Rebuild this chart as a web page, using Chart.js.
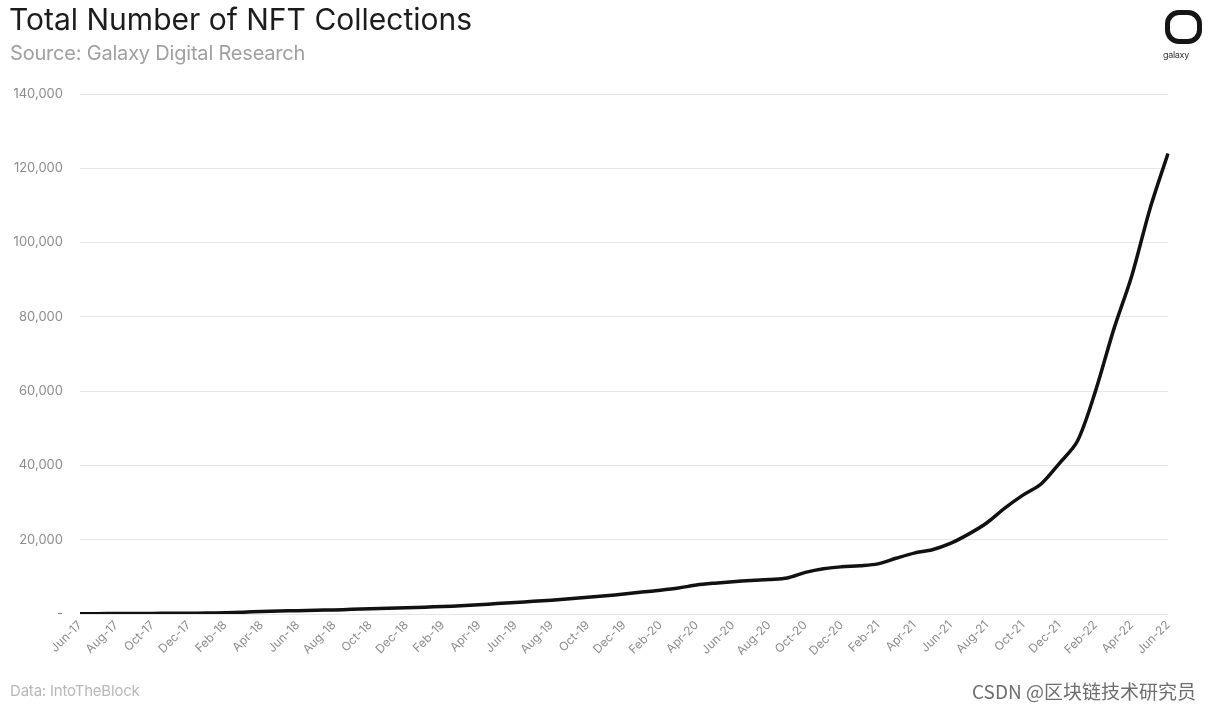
<!DOCTYPE html>
<html>
<head>
<meta charset="utf-8">
<script src="https://cdn.jsdelivr.net/npm/chart.js@4/dist/chart.umd.min.js"></script>
<style>
  html, body { margin: 0; padding: 0; background: #ffffff; }
  #wrap { position: relative; width: 1218px; height: 710px; overflow: hidden; background: #fff; }
  #c { position: absolute; left: 0; top: 0; }
  .t { position: absolute; white-space: nowrap; }
  #title { left: 9px; top: 1px; font-family: "Inter", "Liberation Sans", sans-serif; font-size: 30px; color: #1c1c1c; letter-spacing: 0px; }
  #sub { left: 10px; top: 41px; font-family: "Inter", "Liberation Sans", sans-serif; font-size: 20px; color: #a0a0a0; letter-spacing: -0.2px; }
  #foot { left: 10px; top: 681px; font-family: "Inter", "Liberation Sans", sans-serif; font-size: 15px; color: #b8b8b8; letter-spacing: -0.2px; }
  #wm { left: 972px; top: 677px; font-family: "Noto Sans CJK SC", sans-serif; font-size: 19px; color: #6e6e6e; }
  #logo { position: absolute; left: 1165px; top: 10px; width: 27px; height: 24px; border: 5px solid #151515; border-radius: 14px; }
  #logotxt { left: 1163px; top: 49px; font-family: "Inter", sans-serif; font-size: 9px; color: #333; letter-spacing: -0.3px; }
</style>
</head>
<body>
<div id="wrap">
  <canvas id="c" width="1218" height="710"></canvas>
  <div class="t" id="title">Total Number of NFT Collections</div>
  <div class="t" id="sub">Source: Galaxy Digital Research</div>
  <div id="logo"></div>
  <div class="t" id="logotxt">galaxy</div>
  <div class="t" id="foot">Data: IntoTheBlock</div>
  <div class="t" id="wm">CSDN @区块链技术研究员</div>
</div>
<script>
const months = [
  "Jun-17","Jul-17","Aug-17","Sep-17","Oct-17","Nov-17","Dec-17",
  "Jan-18","Feb-18","Mar-18","Apr-18","May-18","Jun-18","Jul-18","Aug-18","Sep-18","Oct-18","Nov-18","Dec-18",
  "Jan-19","Feb-19","Mar-19","Apr-19","May-19","Jun-19","Jul-19","Aug-19","Sep-19","Oct-19","Nov-19","Dec-19",
  "Jan-20","Feb-20","Mar-20","Apr-20","May-20","Jun-20","Jul-20","Aug-20","Sep-20","Oct-20","Nov-20","Dec-20",
  "Jan-21","Feb-21","Mar-21","Apr-21","May-21","Jun-21","Jul-21","Aug-21","Sep-21","Oct-21","Nov-21","Dec-21",
  "Jan-22","Feb-22","Mar-22","Apr-22","May-22","Jun-22"
];
const collections = [
  100, 100, 120, 140, 160, 180, 200,
  250, 350, 500, 650, 800, 900, 1000, 1100, 1250, 1400, 1550, 1700,
  1850, 2000, 2200, 2500, 2800, 3100, 3400, 3700, 4100, 4500, 4900, 5400,
  5900, 6400, 7000, 7800, 8300, 8700, 9000, 9300, 9700, 11200, 12200, 12700,
  13000, 13500, 15000, 16400, 17300, 19000, 21500, 24500, 28500, 32000, 35000, 40500,
  46500, 60000, 76500, 91000, 109000, 124000
];
const yMax = 140000;
const yStep = 20000;

const ctx = document.getElementById('c').getContext('2d');
new Chart(ctx, {
  type: 'line',
  data: {
    labels: months,
    datasets: [{
      label: 'Total NFT Collections',
      data: collections,
      borderColor: '#111111',
      borderWidth: 3.5,
      pointRadius: 0,
      tension: 0.3,
      fill: false
    }]
  },
  options: {
    responsive: false,
    animation: false,
    devicePixelRatio: 1,
    layout: { padding: { left: 0, top: 94, right: 50, bottom: 0 } },
    plugins: { legend: { display: false }, tooltip: { enabled: false } },
    scales: {
      x: {
        offset: false,
        grid: { display: false, drawTicks: false },
        border: { display: false },
        ticks: {
          autoSkip: false,
          maxRotation: 45,
          minRotation: 45,
          padding: 4,
          color: '#8c8c8c',
          font: { family: 'Inter', size: 12 },
          callback: function(v, i) { return i % 2 === 0 ? months[i] : ''; }
        },
        afterFit: function(s) { s.height = 96; }
      },
      y: {
        min: 0,
        max: yMax,
        grid: { color: '#e6e6e6', lineWidth: 1, drawTicks: false },
        border: { display: false },
        ticks: {
          stepSize: yStep,
          padding: 17,
          color: '#8c8c8c',
          font: { family: 'Inter', size: 13 },
          callback: function(v) { return v === 0 ? '-' : v.toLocaleString('en-US'); }
        },
        afterFit: function(s) { s.width = 80; }
      }
    }
  }
});
</script>
</body>
</html>
